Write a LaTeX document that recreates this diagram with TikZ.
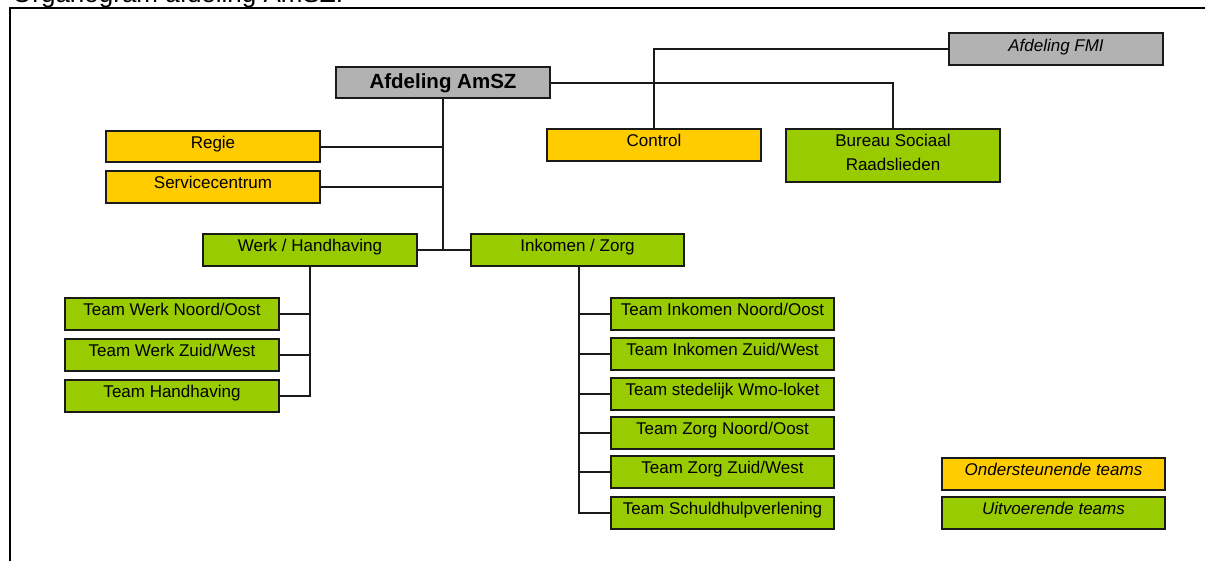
\documentclass[tikz,border=0pt]{standalone}
\usepackage{fontspec}
\setmainfont{Liberation Sans}
\definecolor{ayellow}{HTML}{FFCC00}
\definecolor{agreen}{HTML}{99CC00}
\definecolor{agray}{HTML}{B2B2B2}
\definecolor{aline}{HTML}{1A1A1A}
\tikzset{
  box/.style={draw=aline, line width=2pt, rectangle, anchor=north west,
    inner xsep=0pt, inner ysep=0pt, align=center,
    font=\fontsize{17}{24}\selectfont,
    text height=17.5pt, text depth=14pt},
  ybox/.style={box, fill=ayellow},
  gbox/.style={box, fill=agreen},
  greybox/.style={box, fill=agray},
  conn/.style={draw=aline, line width=2pt},
}
\begin{document}
\begin{tikzpicture}[x=1pt,y=-1pt]
\useasboundingbox (0,0) rectangle (1205,560);
\clip (0,0) rectangle (1205,560);
\fill[white] (0,0) rectangle (1205,560);
% title (clipped at top, as in the reference)
\node[anchor=base west, inner sep=0pt, font=\fontsize{26}{30}\selectfont] (title) at (12,2.5) {Organogram afdeling AmSZ.};
% frame
\draw[line width=2.6pt, black] (1230,8) -- (10,8) -- (10,600);
% boxes
\node[greybox, minimum width=214pt, minimum height=31pt, text height=21pt, text depth=10pt, font=\fontsize{20.5}{24}\selectfont\bfseries] (amsz) at (335,66) {Afdeling AmSZ};
\node[greybox, minimum width=214pt, minimum height=32pt, text height=18.5pt, text depth=13.5pt, font=\fontsize{17}{24}\selectfont\itshape] (fmi) at (948,32) {Afdeling FMI};
\node[ybox, minimum width=214pt, minimum height=31pt, text depth=13.5pt] (regie) at (105,130) {Regie};
\node[ybox, minimum width=214pt, minimum height=32pt] (service) at (105,170) {Servicecentrum};
\node[ybox, minimum width=214pt, minimum height=32pt] (control) at (546,128) {Control};
\node[gbox, minimum width=214pt, minimum height=53pt, text height=41.5pt, text depth=11.5pt] (bureau) at (785,128) {Bureau Sociaal\\Raadslieden};
\node[gbox, minimum width=214pt, minimum height=32pt] (werk) at (202,233) {Werk / Handhaving};
\node[gbox, minimum width=213pt, minimum height=32pt] (inkomen) at (470,233) {Inkomen / Zorg};
\node[gbox, minimum width=214pt, minimum height=32pt] (twno) at (64,297) {Team Werk Noord/Oost};
\node[gbox, minimum width=214pt, minimum height=32pt] (twzw) at (64,338) {Team Werk Zuid/West};
\node[gbox, minimum width=214pt, minimum height=32pt] (thh) at (64,379) {Team Handhaving};
\node[gbox, minimum width=223pt, minimum height=32pt] (tino) at (610,297) {Team Inkomen Noord/Oost};
\node[gbox, minimum width=223pt, minimum height=32pt] (tizw) at (610,337) {Team Inkomen Zuid/West};
\node[gbox, minimum width=223pt, minimum height=32pt] (twmo) at (610,377) {Team stedelijk Wmo-loket};
\node[gbox, minimum width=223pt, minimum height=32pt] (tzno) at (610,416) {Team Zorg Noord/Oost};
\node[gbox, minimum width=223pt, minimum height=32pt] (tzzw) at (610,455) {Team Zorg Zuid/West};
\node[gbox, minimum width=223pt, minimum height=32pt] (tsch) at (610,496) {Team Schuldhulpverlening};
\node[ybox, minimum width=223pt, minimum height=32pt, font=\fontsize{17}{24}\selectfont\itshape] (ond) at (941,457) {Ondersteunende teams};
\node[gbox, minimum width=223pt, minimum height=32pt, font=\fontsize{17}{24}\selectfont\itshape] (uit) at (941,496) {Uitvoerende teams};
% connectors
\draw[conn] (amsz.south) -- (amsz.south |- werk.east);
\draw[conn] (regie.east) -- (regie.east -| amsz.south);
\draw[conn] (service.east) -- (service.east -| amsz.south);
\draw[conn] (werk.east) -- (inkomen.west);
\draw[conn] (amsz.east) -| (bureau.north);
\draw[conn] (fmi.west) -| (control.north);
\draw[conn] (werk.south) |- (twno.east);
\draw[conn] (werk.south) |- (twzw.east);
\draw[conn] (werk.south) |- (thh.east);
\coordinate (ik) at ([xshift=1pt]inkomen.south);
\draw[conn] (ik) |- (tino.west);
\draw[conn] (ik) |- (tizw.west);
\draw[conn] (ik) |- (twmo.west);
\draw[conn] (ik) |- (tzno.west);
\draw[conn] (ik) |- (tzzw.west);
\draw[conn] (ik) |- (tsch.west);
\end{tikzpicture}
\end{document}
